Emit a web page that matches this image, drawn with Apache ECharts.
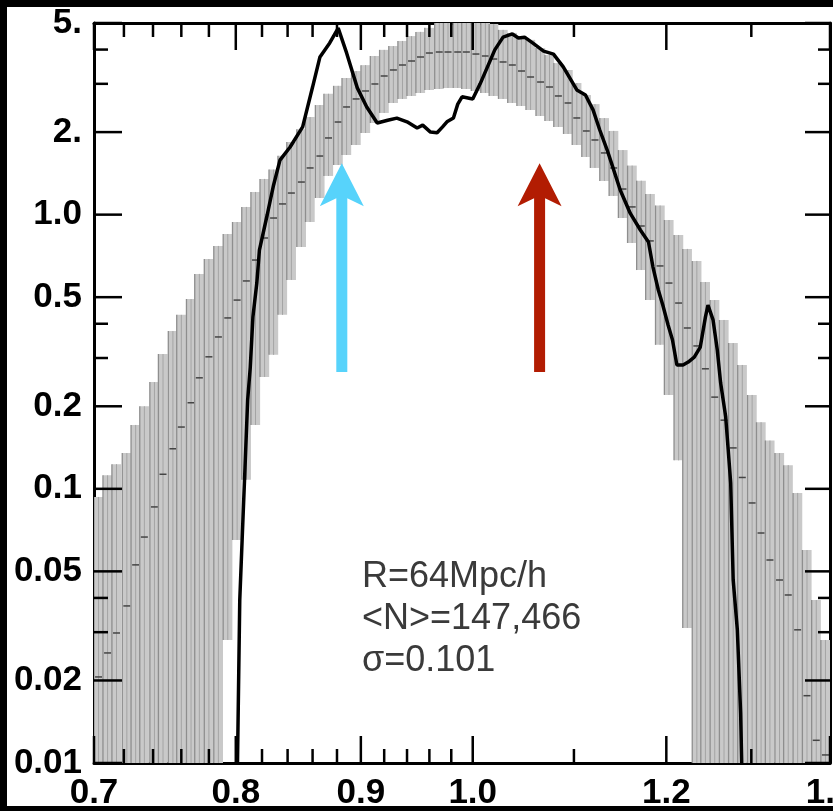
<!DOCTYPE html>
<html><head><meta charset="utf-8">
<script src="https://cdn.jsdelivr.net/npm/echarts@6/dist/echarts.min.js"></script>
<style>html,body{margin:0;padding:0;background:#fff;} #c{width:833px;height:811px;}</style>
</head><body><div id="c"></div>
<script>
// ---- axis ranges, ticks, labels ----
const xRange = [0.7, 1.4];
const yRange = [0.01, 5];
const xMajorTicks = [0.7, 0.8, 0.9, 1.0, 1.2, 1.4];
const xMajorLabels = ['0.7', '0.8', '0.9', '1.0', '1.2', '1.4'];
const xMinorTicks = [0.72, 0.74, 0.76, 0.78, 0.82, 0.84, 0.86, 0.88, 0.92, 0.94, 0.96, 0.98, 1.1, 1.3];
const yMajorTicks = [0.01, 0.02, 0.05, 0.1, 0.2, 0.5, 1, 2, 5];
const yMajorLabels = ['0.01', '0.02', '0.05', '0.1', '0.2', '0.5', '1.0', '2.', '5.'];
const yMinorTicks = [0.03, 0.04, 0.3, 0.4, 3, 4];

// ---- grey error-bar band (bin centre, lower, median, upper) ----
const bandX = [0.703,0.709,0.715,0.722,0.728,0.734,0.741,0.747,0.754,0.760,
  0.767,0.773,0.780,0.787,0.794,0.801,0.808,0.815,0.822,0.829,
  0.836,0.843,0.851,0.858,0.866,0.873,0.881,0.888,0.896,0.904,
  0.912,0.920,0.928,0.936,0.944,0.952,0.960,0.969,0.977,0.986,
  0.994,1.003,1.012,1.020,1.029,1.038,1.047,1.056,1.066,1.075,
  1.084,1.094,1.103,1.113,1.122,1.132,1.142,1.152,1.162,1.172,
  1.182,1.193,1.203,1.214,1.224,1.235,1.245,1.256,1.267,1.278,
  1.289,1.301,1.312,1.323,1.335,1.346,1.358,1.370,1.382,1.394];
const bandHigh = [0.0934,0.112,0.123,0.135,0.171,0.200,0.245,0.310,0.376,0.431,
  0.492,0.608,0.689,0.769,0.850,0.940,1.067,1.21,1.35,1.46,
  1.64,1.84,2.05,2.27,2.51,2.76,2.95,3.15,3.34,3.51,
  3.79,3.99,4.12,4.30,4.48,4.64,4.80,5.13,5.35,5.44,
  5.48,5.44,5.30,4.96,4.72,4.60,4.48,4.34,4.05,3.82,
  3.57,3.37,3.02,2.73,2.53,2.25,2.02,1.72,1.51,1.33,
  1.19,1.08,0.956,0.843,0.750,0.678,0.568,0.488,0.413,0.340,
  0.283,0.220,0.175,0.150,0.135,0.122,0.0966,0.0598,0.0393,0.0281];
const bandMid = [0.0206,0.0252,0.0298,0.0374,0.0528,0.0667,0.0859,0.113,0.140,0.168,
  0.206,0.254,0.303,0.358,0.420,0.488,0.573,0.683,0.822,0.972,
  1.094,1.199,1.315,1.480,1.636,1.904,2.177,2.470,2.642,2.825,
  2.996,3.204,3.370,3.514,3.634,3.758,3.886,3.919,3.919,3.919,
  3.919,3.853,3.790,3.695,3.604,3.514,3.341,3.177,3.046,2.921,
  2.709,2.554,2.252,2.019,1.872,1.679,1.480,1.240,1.067,0.909,
  0.802,0.650,0.563,0.476,0.386,0.332,0.274,0.216,0.178,0.141,
  0.110,0.0888,0.0690,0.0550,0.0465,0.0410,0.0306,0.0176,0.0121,0.0107];
const bandLow = [0.005,0.005,0.005,0.005,0.005,0.005,0.005,0.005,0.005,0.005,
  0.005,0.005,0.005,0.005,0.0281,0.0651,0.108,0.171,0.256,0.308,
  0.431,0.578,0.762,0.940,1.150,1.384,1.517,1.650,1.795,1.985,
  2.159,2.349,2.554,2.642,2.709,2.778,2.849,2.873,2.897,2.897,
  2.873,2.825,2.778,2.709,2.642,2.554,2.490,2.408,2.290,2.196,
  2.088,1.969,1.795,1.623,1.480,1.327,1.170,0.972,0.788,0.628,
  0.488,0.335,0.220,0.127,0.0311,0.005,0.005,0.005,0.005,0.005,
  0.005,0.005,0.005,0.005,0.005,0.005,0.005,0.005,0.005,0.005];

// ---- measured black curve ----
const curveX = [0.801,0.803,0.805,0.807,0.809,0.811,0.813,0.816,0.818,0.824,
  0.829,0.834,0.842,0.852,0.860,0.866,0.874,0.881,0.888,0.897,
  0.905,0.914,0.923,0.931,0.940,0.949,0.954,0.961,0.967,0.972,
  0.976,0.982,0.986,0.990,1.000,1.007,1.014,1.021,1.029,1.038,
  1.044,1.050,1.058,1.069,1.079,1.089,1.103,1.112,1.120,1.127,
  1.135,1.141,1.149,1.160,1.171,1.180,1.185,1.191,1.196,1.202,
  1.207,1.212,1.219,1.225,1.232,1.239,1.245,1.248,1.254,1.259,
  1.263,1.269,1.272,1.275,1.278,1.283,1.287,1.289];
const curveY = [0.008,0.0393,0.069,0.120,0.211,0.278,0.423,0.563,0.743,0.997,
  1.283,1.58,1.765,2.09,2.92,3.76,4.23,4.79,3.89,2.90,
  2.47,2.16,2.21,2.25,2.18,2.07,2.12,2.00,1.99,2.09,
  2.18,2.25,2.53,2.69,2.64,3.00,3.46,3.99,4.44,4.56,
  4.41,4.44,4.23,3.95,3.85,3.46,2.85,2.73,2.41,2.04,
  1.72,1.49,1.23,1.01,0.879,0.795,0.644,0.531,0.468,0.396,
  0.349,0.283,0.283,0.290,0.302,0.329,0.423,0.468,0.413,0.321,
  0.243,0.183,0.139,0.105,0.0465,0.0306,0.0152,0.008];

// ---- arrows ----
const arrowX = [0.884, 1.065];
const arrowBase = [0.267, 0.267];
const arrowTip = [1.54, 1.54];
const arrowColors = ['#57d3fb', '#b21c02'];

// ---- annotation ----
const annotationLines = ['R=64Mpc/h', '<N>=147,466', 'σ=0.101'];

function labelFrom(ticks, labels) {
  return function (v) {
    for (let i = 0; i < ticks.length; i++) if (Math.abs(v - ticks[i]) < 1e-9 * Math.max(1, ticks[i])) return labels[i];
    return '';
  };
}
const tickFont = {fontSize: 35, fontWeight: 'bold', fontFamily: 'Liberation Sans', color: '#000'};

const bandData = bandX.map((x, i) => [x, bandLow[i], bandMid[i], bandHigh[i]]);
const curveData = curveX.map((x, i) => [x, curveY[i]]);
const arrowData = arrowX.map((x, i) => [x, arrowBase[i], arrowTip[i], i]);
const yTickData = yMajorTicks.map(v => [1, v, 1]).concat(yMinorTicks.map(v => [1, v, 0]));

const chart = echarts.init(document.getElementById('c'), null, {renderer: 'canvas'});
chart.setOption({
  backgroundColor: '#fff', animation: false,
  grid: {left: 94, right: 3, top: 23, bottom: 48, outerBoundsMode: 'none'},
  xAxis: [
    {type: 'log', min: xRange[0], max: xRange[1], position: 'bottom',
      axisLine: {show: true, lineStyle: {color: '#000', width: 3}}, axisTick: {show: false},
      axisLabel: Object.assign({show: true, customValues: xMajorTicks, margin: 13, hideOverlap: false,
        formatter: labelFrom(xMajorTicks, xMajorLabels)}, tickFont),
      splitLine: {show: false}, minorTick: {show: false}},
    {type: 'log', min: xRange[0], max: xRange[1], position: 'top',
      axisLine: {show: true, lineStyle: {color: '#000', width: 3}}, axisTick: {show: false}, axisLabel: {show: false}, splitLine: {show: false}}
  ],
  yAxis: [
    {type: 'log', min: yRange[0], max: yRange[1], position: 'left',
      axisLine: {show: true, lineStyle: {color: '#000', width: 3}}, axisTick: {show: false},
      axisLabel: Object.assign({show: true, customValues: yMajorTicks, margin: 12, hideOverlap: false,
        formatter: labelFrom(yMajorTicks, yMajorLabels)}, tickFont),
      splitLine: {show: false}, minorTick: {show: false}},
    {type: 'log', min: yRange[0], max: yRange[1], position: 'right',
      axisLine: {show: true, lineStyle: {color: '#000', width: 3}}, axisTick: {show: false}, axisLabel: {show: false}, splitLine: {show: false}}
  ],
  series: [
    {
      type: 'custom', name: 'yTicks', clip: false, z: 5,
      data: yTickData, encode: {x: 0, y: 1},
      renderItem: function (params, api) {
        const yv = api.value(1), major = api.value(2);
        const pL = api.coord([xRange[0], yv]);
        const pR = api.coord([xRange[1], yv]);
        const st = {stroke: '#000', lineWidth: 2.5};
        return {type: 'group', children: [
          {type: 'line', shape: {x1: pL[0], y1: pL[1], x2: pL[0] + (major ? 28 : 14), y2: pL[1]}, style: st},
          {type: 'line', shape: {x1: pR[0], y1: pR[1], x2: pR[0] - (major ? 25 : 12), y2: pR[1]}, style: st}
        ]};
      }
    },
    {
      type: 'custom', name: 'band', clip: true, z: 1,
      data: bandData, encode: {x: 0, y: [1, 2, 3]},
      renderItem: function (params, api) {
        const x = api.value(0);
        const pLo = api.coord([x, api.value(1)]);
        const pMid = api.coord([x, api.value(2)]);
        const pHi = api.coord([x, api.value(3)]);
        const w = 9.2;
        return {type: 'group', children: [
          {type: 'rect', shape: {x: pHi[0] - w / 2, y: pHi[1], width: w, height: pLo[1] - pHi[1]}, style: {fill: '#c9c9c9'}},
          {type: 'line', shape: {x1: pHi[0] - w / 2, y1: pHi[1], x2: pHi[0] - w / 2, y2: pLo[1]}, style: {stroke: '#8e8e8e', lineWidth: 1.3}},
          {type: 'line', shape: {x1: pHi[0], y1: pHi[1], x2: pHi[0], y2: pLo[1]}, style: {stroke: '#a4a4a4', lineWidth: 1}},
          {type: 'line', shape: {x1: pMid[0] - 3.5, y1: pMid[1], x2: pMid[0] + 3.5, y2: pMid[1]}, style: {stroke: '#444', lineWidth: 1.5}}
        ]};
      }
    },
    {type: 'line', name: 'curve', data: curveData, showSymbol: false, clip: true, z: 3, lineStyle: {color: '#000', width: 3.5}},
    {
      type: 'custom', name: 'arrows', clip: false, z: 4,
      data: arrowData, encode: {x: 0, y: [1, 2]},
      renderItem: function (params, api) {
        const x = api.value(0);
        const pB = api.coord([x, api.value(1)]);
        const pT = api.coord([x, api.value(2)]);
        const cx = pT[0], ty = pT[1], by = pB[1];
        return {type: 'polygon', shape: {points: [
          [cx, ty], [cx + 22, ty + 43], [cx + 5.5, ty + 35], [cx + 5.5, by],
          [cx - 5.5, by], [cx - 5.5, ty + 35], [cx - 22, ty + 43]]},
          style: {fill: arrowColors[api.value(3)]}};
      }
    }
  ],
  graphic: [
    {id: 'note', type: 'text', left: 362, top: 556, z: 50,
      style: {text: annotationLines.join('\n'), fontSize: 36, lineHeight: 42, fontFamily: 'Liberation Sans', fill: '#3a3a3a'}},
    {id: 'frameL', type: 'rect', z: 100, shape: {x: 0, y: 0, width: 7, height: 811}, style: {fill: '#000'}},
    {id: 'frameT', type: 'rect', z: 100, shape: {x: 0, y: 0, width: 833, height: 7}, style: {fill: '#000'}},
    {id: 'frameB', type: 'rect', z: 100, shape: {x: 0, y: 806, width: 833, height: 5}, style: {fill: '#000'}}
  ]
});

// x-axis ticks (top and bottom, inward), positioned through the x axis scale, on their own layer
const xTickEls = [];
xMajorTicks.map(v => [v, 27]).concat(xMinorTicks.map(v => [v, 14])).forEach(function (t, i) {
  const pB = chart.convertToPixel({xAxisIndex: 0, yAxisIndex: 0}, [t[0], yRange[0]]);
  const pT = chart.convertToPixel({xAxisIndex: 0, yAxisIndex: 0}, [t[0], yRange[1]]);
  xTickEls.push({id: 'xtb' + i, type: 'rect', zlevel: 1, z: 60, shape: {x: pB[0] - 1.25, y: pB[1] - t[1], width: 2.5, height: t[1]}, style: {fill: '#000'}});
  xTickEls.push({id: 'xtt' + i, type: 'rect', zlevel: 1, z: 60, shape: {x: pT[0] - 1.25, y: pT[1], width: 2.5, height: t[1]}, style: {fill: '#000'}});
});
chart.setOption({graphic: xTickEls});
</script>
</body></html>
